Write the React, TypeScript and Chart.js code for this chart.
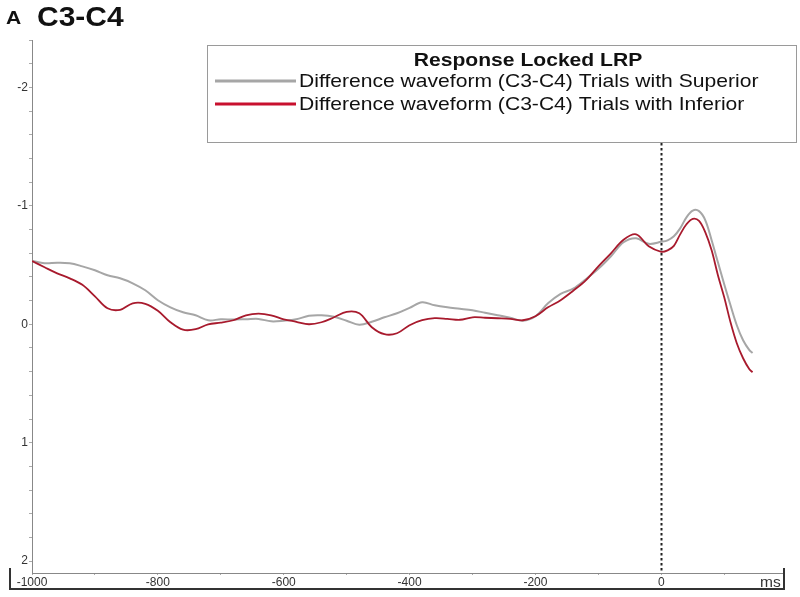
import React, { useEffect, useRef } from "react";
import { Chart, registerables } from "chart.js";

Chart.register(...registerables);

// time in ms
const timesMs = [
  -1000, -980, -960, -940, -920, -900, -880, -860, -840, -820,
  -800, -780, -760, -740, -720, -700, -680, -660, -640, -620,
  -600, -580, -560, -540, -520, -500, -480, -460, -440, -420,
  -400, -380, -360, -340, -320, -300, -280, -260, -240, -220,
  -200, -180, -160, -140, -120, -100, -80, -60, -40, -20,
  0, 10, 20, 30, 40, 50, 60, 70, 80, 90,
  100, 110, 120, 130, 140, 145,
];

// Difference waveform (C3-C4) Trials with Superior (µV)
const superiorValues = [
  -0.537, -0.515, -0.519, -0.515, -0.489, -0.456, -0.414, -0.388, -0.346, -0.287,
  -0.203, -0.143, -0.101, -0.076, -0.034, -0.042, -0.040, -0.042, -0.045, -0.025,
  -0.030, -0.042, -0.072, -0.076, -0.063, -0.030, 0.004, -0.021, -0.059, -0.093,
  -0.139, -0.186, -0.160, -0.143, -0.131, -0.118, -0.097, -0.076, -0.055, -0.030,
  -0.068, -0.177, -0.257, -0.301, -0.380, -0.468, -0.574, -0.692, -0.726, -0.679,
  -0.696, -0.709, -0.743, -0.810, -0.903, -0.960, -0.955, -0.878, -0.709, -0.523,
  -0.338, -0.160, 0.008, 0.135, 0.219, 0.242,
];

// Difference waveform (C3-C4) Trials with Inferior (µV)
const inferiorValues = [
  -0.534, -0.481, -0.430, -0.388, -0.333, -0.236, -0.135, -0.122, -0.177, -0.173,
  -0.114, -0.017, 0.046, 0.042, 0.000, -0.013, -0.034, -0.076, -0.090, -0.076,
  -0.042, -0.021, 0.000, -0.017, -0.059, -0.105, -0.093, 0.025, 0.084, 0.076,
  0.008, -0.034, -0.051, -0.046, -0.038, -0.059, -0.055, -0.051, -0.046, -0.034,
  -0.068, -0.143, -0.203, -0.283, -0.371, -0.489, -0.599, -0.713, -0.759, -0.658,
  -0.612, -0.624, -0.662, -0.759, -0.844, -0.890, -0.873, -0.776, -0.624, -0.414,
  -0.228, -0.017, 0.160, 0.287, 0.380, 0.405,
];

// tick marks (every 100 ms / 0.2 µV) and labelled ticks
const xTickMarks = [-1000, -900, -800, -700, -600, -500, -400, -300, -200, -100, 0, 100];
const xTickLabels = [-1000, -800, -600, -400, -200, 0];
const yTickMarks = [
  -2.4, -2.2, -2.0, -1.8, -1.6, -1.4, -1.2, -1.0, -0.8, -0.6, -0.4, -0.2,
  0, 0.2, 0.4, 0.6, 0.8, 1.0, 1.2, 1.4, 1.6, 1.8, 2.0,
];
const yTickLabels = [-2, -1, 0, 1, 2];

const legendTitle = "Response Locked LRP";
const seriesNames = [
  "Difference waveform (C3-C4) Trials with Superior",
  "Difference waveform (C3-C4) Trials with Inferior",
];
const panelLetter = "A";
const panelTitle = "C3-C4";
const xUnit = "ms";

const GRAY = "#a6a6a6";
const RED = "#a81a2d";
const RED_LEGEND = "#c8102e";
const FONT = "'Liberation Sans', Arial, sans-serif";
const STRETCH = 1.11;

function stretchedText(
  ctx: CanvasRenderingContext2D,
  text: string,
  x: number,
  y: number,
  align: "left" | "center"
) {
  const w = ctx.measureText(text).width * STRETCH;
  const left = align === "center" ? x - w / 2 : x;
  ctx.save();
  ctx.translate(left, y);
  ctx.scale(STRETCH, 1);
  ctx.textAlign = "left";
  ctx.fillText(text, 0, 0);
  ctx.restore();
}

const decorPlugin = {
  id: "decor",
  afterDraw(chart: any) {
    const ctx = chart.ctx as CanvasRenderingContext2D;
    const xs = chart.scales.x;
    const area = chart.chartArea;
    ctx.save();

    // dashed zero line
    const x0 = Math.round(xs.getPixelForValue(0)) + 0.5;
    ctx.strokeStyle = "#222";
    ctx.lineWidth = 2;
    ctx.setLineDash([2.5, 2.5]);
    ctx.beginPath();
    ctx.moveTo(x0, 143);
    ctx.lineTo(x0, area.bottom);
    ctx.stroke();
    ctx.setLineDash([]);

    // bottom frame
    ctx.strokeStyle = "#333";
    ctx.lineWidth = 2;
    ctx.beginPath();
    ctx.moveTo(10, 568);
    ctx.lineTo(10, 589);
    ctx.lineTo(area.right, 589);
    ctx.lineTo(area.right, 568);
    ctx.stroke();

    // unit
    ctx.fillStyle = "#333";
    ctx.font = `14px ${FONT}`;
    ctx.textBaseline = "alphabetic";
    stretchedText(ctx, xUnit, 760, 587, "left");

    // panel titles
    ctx.fillStyle = "#111";
    ctx.font = `bold 19px ${FONT}`;
    stretchedText(ctx, panelLetter, 6, 24, "left");
    ctx.font = `bold 27px ${FONT}`;
    stretchedText(ctx, panelTitle, 37, 26, "left");

    // legend box
    ctx.fillStyle = "#fff";
    ctx.fillRect(207.5, 45.5, 589, 97);
    ctx.strokeStyle = "#9a9a9a";
    ctx.lineWidth = 1;
    ctx.strokeRect(207.5, 45.5, 589, 97);

    ctx.fillStyle = "#111";
    ctx.textBaseline = "middle";
    ctx.font = `bold 19px ${FONT}`;
    stretchedText(ctx, legendTitle, 528, 61, "center");

    const rows = [
      { y: 81, color: GRAY, text: seriesNames[0] },
      { y: 104, color: RED_LEGEND, text: seriesNames[1] },
    ];
    ctx.font = `19px ${FONT}`;
    rows.forEach((r) => {
      ctx.strokeStyle = r.color;
      ctx.lineWidth = 3;
      ctx.beginPath();
      ctx.moveTo(215, r.y);
      ctx.lineTo(296, r.y);
      ctx.stroke();
      ctx.fillStyle = "#111";
      stretchedText(ctx, r.text, 299, r.y + 1, "left");
    });

    ctx.restore();
  },
};

export default function App() {
  const canvasRef = useRef<HTMLCanvasElement | null>(null);

  useEffect(() => {
    if (!canvasRef.current) return;
    const chart = new Chart(canvasRef.current, {
      type: "line",
      data: {
        datasets: [
          {
            label: seriesNames[1],
            data: timesMs.map((t, i) => ({ x: t, y: inferiorValues[i] })),
            borderColor: RED,
            borderWidth: 1.8,
            pointRadius: 0,
            tension: 0.35,
            fill: false,
          },
          {
            label: seriesNames[0],
            data: timesMs.map((t, i) => ({ x: t, y: superiorValues[i] })),
            borderColor: GRAY,
            borderWidth: 2,
            pointRadius: 0,
            tension: 0.35,
            fill: false,
          },
        ],
      },
      options: {
        responsive: false,
        animation: false,
        events: [],
        layout: { padding: { left: 0, top: 40, right: 16, bottom: 0 } },
        plugins: {
          legend: { display: false },
          tooltip: { enabled: false },
          title: { display: false },
        },
        scales: {
          x: {
            type: "linear",
            min: -1000,
            max: 195,
            afterBuildTicks: (s: any) => {
              s.ticks = xTickMarks.map((v) => ({ value: v }));
            },
            afterFit: (s: any) => {
              s.height = 24;
            },
            ticks: {
              autoSkip: false,
              maxRotation: 0,
              minRotation: 0,
              padding: 0,
              color: "#333",
              font: { family: FONT, size: 12 },
              callback: (v: any) => {
                const n = Math.round(Number(v));
                return xTickLabels.includes(n) ? String(n) : "";
              },
            },
            grid: {
              drawOnChartArea: false,
              drawTicks: true,
              tickLength: 2,
              color: "#aaa",
            },
            border: { display: true, color: "#888", width: 1 },
          },
          y: {
            type: "linear",
            reverse: true,
            min: -2.4,
            max: 2.1,
            afterBuildTicks: (s: any) => {
              s.ticks = yTickMarks.map((v) => ({ value: v }));
            },
            afterFit: (s: any) => {
              s.width = 32;
            },
            ticks: {
              autoSkip: false,
              padding: 1,
              color: "#333",
              font: { family: FONT, size: 12 },
              callback: (v: any) => {
                const n = Number(v);
                const r = Math.round(n);
                if (Math.abs(n - r) < 1e-6 && yTickLabels.includes(r)) {
                  return String(r === 0 ? 0 : r);
                }
                return "";
              },
            },
            grid: {
              drawOnChartArea: false,
              drawTicks: true,
              tickLength: 3,
              color: "#aaa",
            },
            border: { display: true, color: "#888", width: 1 },
          },
        },
      },
      plugins: [decorPlugin],
    });
    return () => chart.destroy();
  }, []);

  return (
    <div
      style={{
        position: "absolute",
        left: 0,
        top: 0,
        width: 800,
        height: 597,
        background: "#fff",
      }}
    >
      <canvas ref={canvasRef} width={800} height={597} />
    </div>
  );
}
